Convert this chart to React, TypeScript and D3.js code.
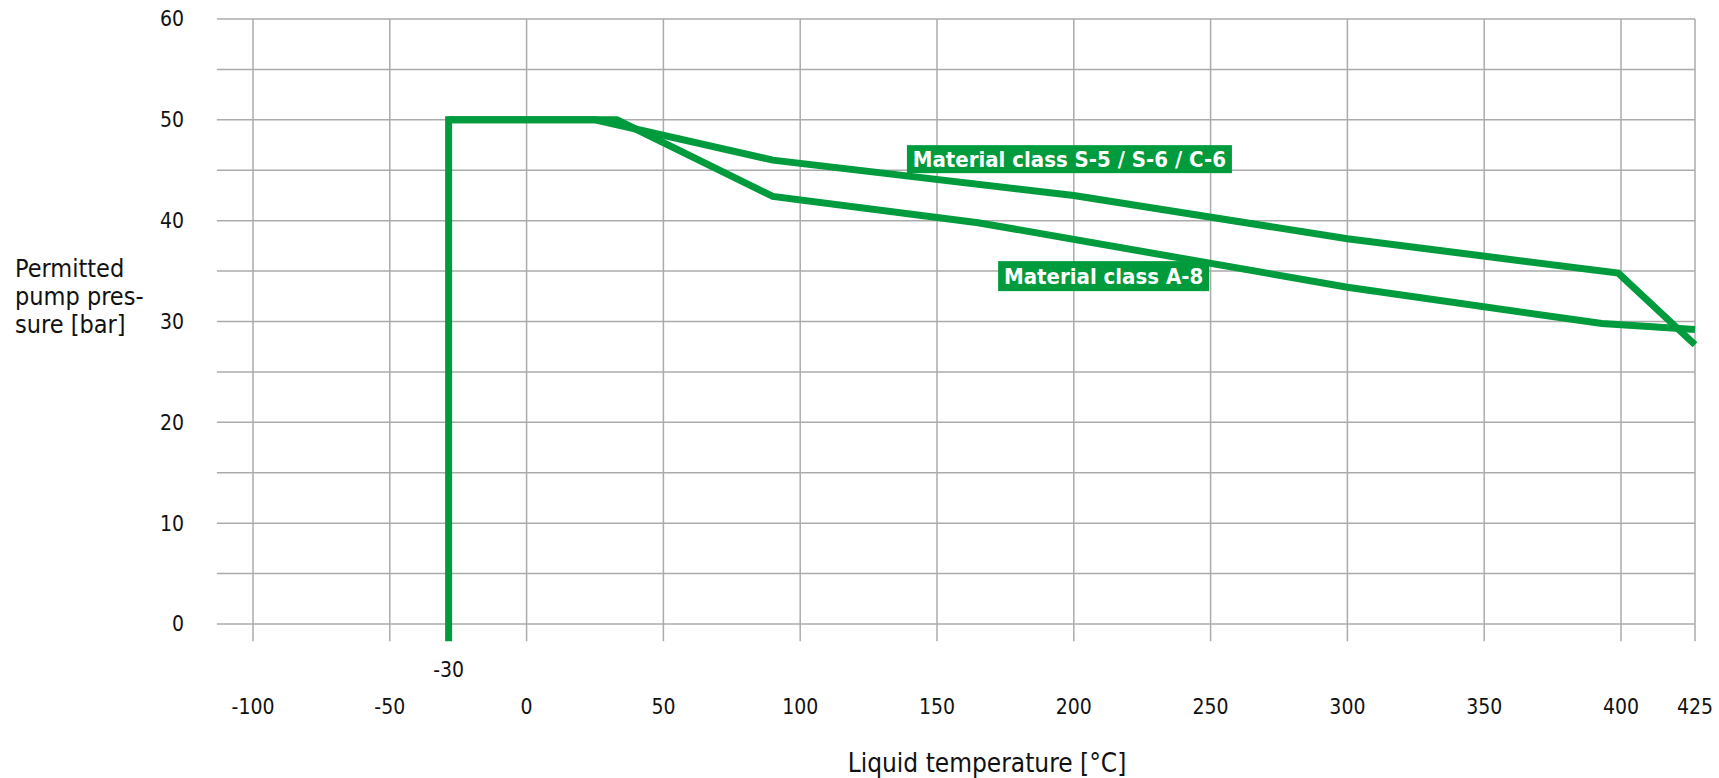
import * as d3 from "d3";

// axis ticks
const xTicks = [-100, -50, 0, 50, 100, 150, 200, 250, 300, 350, 400, 425];
const yTicks = [0, 10, 20, 30, 40, 50, 60];
const yGrid = [0, 5, 10, 15, 20, 25, 30, 35, 40, 45, 50, 55, 60];
const minTempLabel = -30;
// the drawn limit sits slightly right of -30 in the original
const minTempDrawn = -28.5;

// Material class S-5 / S-6 / C-6 (includes the lower temperature limit)
const s5Temp = [minTempDrawn, minTempDrawn, 25, 90, 200, 300, 399, 425];
const s5Pressure = [-1.7, 50, 50, 46, 42.5, 38.2, 34.8, 27.7];

// Material class A-8
const a8Temp = [minTempDrawn, 33, 90, 165, 300, 393, 425];
const a8Pressure = [50, 50, 42.4, 39.8, 33.4, 29.8, 29.2];

// label anchors in data units
const labels = [
  { text: "Material class S-5 / S-6 / C-6", t: 198.4, p: 46.1, w: 325, h: 28 },
  { text: "Material class A-8", t: 210.9, p: 34.5, w: 211, h: 30 },
];

const W = 1719;
const H = 778;
const GREEN = "#009b3d";
const GRID = "#ababab";
const FONT = "'Liberation Sans Narrow', 'DejaVu Sans Condensed', 'Open Sans', sans-serif";

export default function App() {
  // the last 25 °C are squeezed in the original, hence the piecewise domain
  const x = d3.scaleLinear().domain([-100, 400, 425]).range([253, 1621, 1695]);
  const y = d3.scaleLinear().domain([0, 60]).range([624, 19]);

  const left = x(-113.2);
  const right = x(425);
  const gridBottom = y(-1.7);

  const line = d3
    .line<[number, number]>()
    .x((d) => x(d[0]))
    .y((d) => y(d[1]));

  const s5 = line(s5Temp.map((t, i) => [t, s5Pressure[i]] as [number, number]));
  const a8 = line(a8Temp.map((t, i) => [t, a8Pressure[i]] as [number, number]));

  return (
    <svg
      width={W}
      height={H}
      style={{ position: "absolute", left: 0, top: 0, background: "#fff" }}
      fontFamily={FONT}
      fontStretch="condensed"
    >
      {/* grid */}
      {yGrid.map((v) => (
        <line key={"h" + v} x1={left} x2={right} y1={y(v)} y2={y(v)} stroke={GRID} strokeWidth={1.5} />
      ))}
      {xTicks.map((v) => (
        <line key={"v" + v} x1={x(v)} x2={x(v)} y1={y(60)} y2={gridBottom} stroke={GRID} strokeWidth={1.5} />
      ))}

      {/* curves */}
      <path d={a8 ?? ""} fill="none" stroke={GREEN} strokeWidth={7} strokeLinejoin="miter" />
      <path d={s5 ?? ""} fill="none" stroke={GREEN} strokeWidth={7} strokeLinejoin="miter" />

      {/* y ticks */}
      {yTicks.map((v) => (
        <text key={"yt" + v} x={184} y={y(v)} dy="0.35em" textAnchor="end" fontSize={21} fill="#111">
          {v}
        </text>
      ))}

      {/* x ticks */}
      {xTicks.map((v) => (
        <text key={"xt" + v} x={x(v)} y={707} dy="0.35em" textAnchor="middle" fontSize={21} fill="#111">
          {v}
        </text>
      ))}
      <text x={x(minTempDrawn)} y={670} dy="0.35em" textAnchor="middle" fontSize={21} fill="#111">
        {minTempLabel}
      </text>

      {/* axis titles */}
      <text fontSize={25} fill="#111">
        <tspan x={15} y={277}>Permitted</tspan>
        <tspan x={15} y={305}>pump pres-</tspan>
        <tspan x={15} y={333}>sure [bar]</tspan>
      </text>
      <text x={987} y={772} textAnchor="middle" fontSize={26} fill="#111">
        Liquid temperature [°C]
      </text>

      {/* curve labels */}
      {labels.map((l) => (
        <g key={l.text} transform={`translate(${x(l.t)},${y(l.p)})`}>
          <rect x={-l.w / 2} y={-l.h / 2} width={l.w} height={l.h} fill={GREEN} />
          <text
            x={0}
            y={0}
            dy="0.36em"
            textAnchor="middle"
            fontSize={22}
            fontWeight="bold"
            fill="#fff"
          >
            {l.text}
          </text>
        </g>
      ))}
    </svg>
  );
}
